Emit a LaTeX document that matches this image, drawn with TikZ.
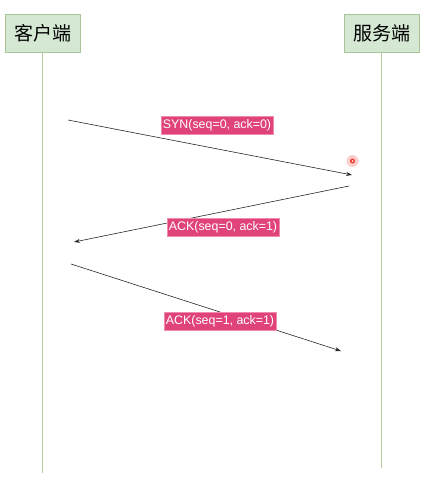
\documentclass[tikz,border=0pt]{standalone}
\usepackage{fontspec}
\setmainfont{Liberation Sans}
\newfontfamily\cjk{Noto Sans CJK SC}
\usepackage{tikz}
\usetikzlibrary{arrows.meta}
\definecolor{boxfill}{HTML}{D5E8D4}
\definecolor{boxline}{HTML}{A9C497}
\definecolor{life}{HTML}{B5CCA3}
\definecolor{tag}{HTML}{E0437A}
\definecolor{tagline}{HTML}{F08AAE}
\definecolor{dotred}{HTML}{F03A2E}
\tikzset{
  party/.style={draw=boxline, fill=boxfill, line width=0.8pt, minimum width=75pt, minimum height=38pt, inner sep=0pt, font=\cjk\fontsize{19}{19}\selectfont},
  lifeline/.style={draw=life, line width=1.1pt},
  msg/.style={draw=black!85, line width=0.6pt, -{Stealth[length=6pt,width=4pt]}},
  tagbox/.style={draw=tagline, fill=tag, text=white, line width=0.5pt, inner xsep=2pt, inner ysep=0pt, minimum height=18pt, font=\fontsize{12.4}{12.4}\selectfont},
}
\begin{document}
\begin{tikzpicture}[x=1pt,y=-1pt]
  \useasboundingbox (0,0) rectangle (425,478);
  % the two parties
  \node[party] (client) at (42.5,33) {客户端};
  \node[party] (server) at (381.5,33) {服务端};
  \coordinate (clientEnd) at (42.5,473);
  \coordinate (serverEnd) at (381.5,468);
  \draw[lifeline] (client.south) -- (clientEnd);
  \draw[lifeline] (server.south) -- (serverEnd);
  % handshake messages
  \coordinate (s1) at (68,120);
  \coordinate (e1) at (352,175);
  \coordinate (s2) at (349,186);
  \coordinate (e2) at (74,242);
  \coordinate (s3) at (71,264);
  \coordinate (e3) at (341,351);
  \draw[msg] (s1) -- (e1);
  \draw[msg] (s2) -- (e2);
  \draw[msg] (s3) -- (e3);
  \node[tagbox] (syn) at (217,125) {SYN(seq=0, ack=0)};
  \node[tagbox] (ack1) at (223,227.5) {ACK(seq=0, ack=1)};
  \node[tagbox] (ack2) at (220,321) {ACK(seq=1, ack=1)};
  % pointer mark
  \fill[dotred!25] (352.5,161) circle (6pt);
  \fill[dotred] (352.5,161) circle (2.5pt);
  \fill[white] (352.5,161) circle (0.9pt);
\end{tikzpicture}
\end{document}
